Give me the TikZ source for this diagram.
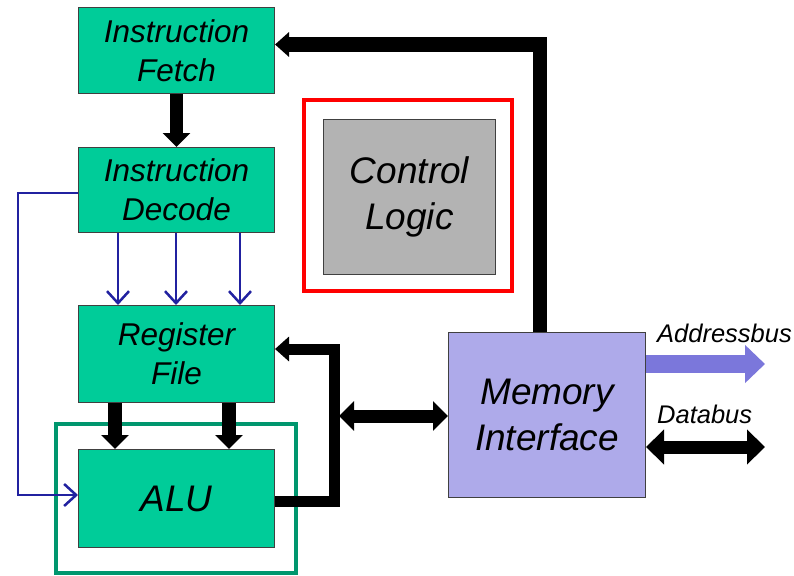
\documentclass[tikz,border=0pt]{standalone}
\usepackage{fontspec}
\setmainfont{Liberation Sans}
\usetikzlibrary{arrows.meta}
\definecolor{boxgreen}{HTML}{00CC99}
\definecolor{memfill}{HTML}{AEAAEA}
\definecolor{clgray}{HTML}{B3B3B3}
\definecolor{boxedge}{HTML}{404040}
\definecolor{wireblue}{HTML}{2121A0}
\definecolor{alugreen}{HTML}{00966E}
\definecolor{abus}{HTML}{7B77DB}
\tikzset{
  blockbox/.style={draw=boxedge, line width=1pt, fill=boxgreen, inner sep=0pt, anchor=north west, align=center},
  ftA/.style={font=\fontsize{31.5}{39}\selectfont\itshape},
  ftB/.style={font=\fontsize{37}{46}\selectfont\itshape},
  ftC/.style={font=\fontsize{25.5}{30}\selectfont\itshape},
  bluewire/.style={draw=wireblue, line width=2.5pt, line join=miter, -{Straight Barb[length=12pt,width=22pt]}},
  fatA/.style={line width=12.5pt, -{Triangle[length=14pt,width=27pt]}},
  fatB/.style={line width=14pt, -{Triangle[length=14pt,width=27pt]}},
  fatLoop/.style={line width=11pt, line join=miter, -{Triangle[length=14pt,width=24pt]}},
  fatBi/.style={line width=13pt, {Triangle[length=15pt,width=29pt]}-{Triangle[length=15pt,width=29pt]}},
  fatMem/.style={line width=14.5pt, line join=miter, -{Triangle[length=14pt,width=24pt]}},
  fatAddr/.style={line width=18pt, draw=abus, -{Triangle[length=20pt,width=37pt]}},
  fatData/.style={line width=13pt, {Triangle[length=18pt,width=34pt]}-{Triangle[length=18pt,width=34pt]}}
}
\begin{document}
\begin{tikzpicture}[x=1pt,y=-1pt]
\useasboundingbox (0,0) rectangle (794,575);
\fill[white] (0,0) rectangle (794,575);

% frames
\draw[red, line width=4pt] (304,100) rectangle (512,291);
\draw[alugreen, line width=3.5pt] (56,424) rectangle (296,573);

% blocks
\node[blockbox, ftA, minimum width=196pt, minimum height=86pt] (IF) at (78,7) {Instruction\\Fetch};
\node[blockbox, ftA, minimum width=196pt, minimum height=85pt] (ID) at (78,147) {Instruction\\Decode};
\node[blockbox, ftA, minimum width=196pt, minimum height=97pt] (RF) at (78,305) {Register\\File};
\node[blockbox, ftB, minimum width=196pt, minimum height=98pt] (ALU) at (78,449) {\raisebox{-7pt}{ALU}};
\node[blockbox, ftB, fill=memfill, minimum width=197pt, minimum height=165pt] (MEM) at (448,332) {Memory\\Interface};
\node[blockbox, ftB, fill=clgray, minimum width=172pt, minimum height=155pt] (CL) at (323,119) {\raisebox{-8pt}{Control}\\\raisebox{-8pt}{Logic}};

% labels
\node[ftC, anchor=base west, inner sep=0pt] (lab1) at (657,342) {Addressbus};
\node[ftC, anchor=base west, inner sep=0pt] (lab2) at (657,423) {Databus};

% coordinates
\coordinate (d1) at (118,0);
\coordinate (d2) at (176,0);
\coordinate (d3) at (240,0);
\coordinate (bltop) at (18,193);
\coordinate (blbot) at (18,495);
\coordinate (r1) at (115,0);
\coordinate (r2) at (229,0);
\coordinate (lp1) at (334,501);
\coordinate (lp2) at (334,349);
\coordinate (bd) at (339,416);
\coordinate (mt) at (540,44.5);
\coordinate (ab) at (765,364);
\coordinate (db) at (765,447);

% connectors
\draw[fatA] (IF.south) -- (ID.north);
\draw[bluewire] (ID.south -| d1) -- (RF.north -| d1);
\draw[bluewire] (ID.south -| d2) -- (RF.north -| d2);
\draw[bluewire] (ID.south -| d3) -- (RF.north -| d3);
\draw[bluewire] (ID.west |- bltop) -- (bltop) -- (blbot) -- (ALU.west |- blbot);
\draw[fatB] (RF.south -| r1) -- (ALU.north -| r1);
\draw[fatB] (RF.south -| r2) -- (ALU.north -| r2);
\draw[fatLoop] (ALU.east |- lp1) -- (lp1) -- (lp2) -- (RF.east |- lp2);
\draw[fatBi] (bd) -- (MEM.west |- bd);
\draw[fatMem] (MEM.north -| mt) -- (mt) -- (IF.east |- mt);
\draw[fatAddr] (MEM.east |- ab) -- (ab);
\draw[fatData] (MEM.east |- db) -- (db);
\end{tikzpicture}
\end{document}
